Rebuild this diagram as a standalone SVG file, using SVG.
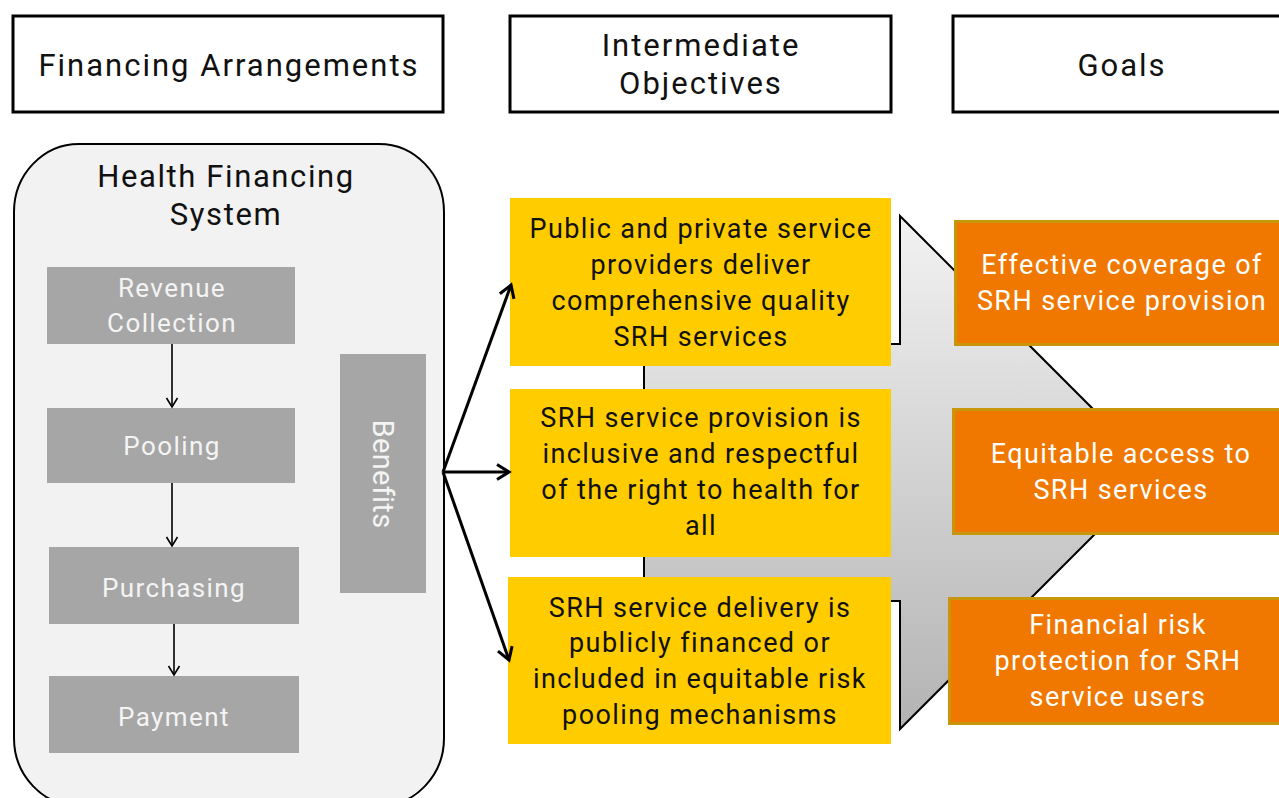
<svg xmlns="http://www.w3.org/2000/svg" width="1279" height="798" viewBox="0 0 1279 798">
<defs>
<style>
text{font-family:Roboto,"Liberation Sans",sans-serif;text-anchor:middle}
.hdr{font-size:31px;letter-spacing:2px;fill:#111}
.hbox{fill:#fff;stroke:#000;stroke-width:3}
.gbox{fill:#a6a6a6}
.gtxt{font-size:26px;letter-spacing:1.4px;fill:#f4f4f4}
.ybox{fill:#ffcc00}
.ytxt{font-size:27px;letter-spacing:1.4px;fill:#111}
.obox{fill:#f07800;stroke:#c8960a;stroke-width:3}
.otxt{font-size:27px;letter-spacing:1.4px;fill:#fff}
.thin{stroke:#000;stroke-width:1.6;fill:none;marker-end:url(#chevS)}
.thick{stroke:#000;stroke-width:3;fill:none;marker-end:url(#chevL)}
</style>
<linearGradient id="gArrow" x1="0" y1="0" x2="0" y2="1">
<stop offset="0" stop-color="#f2f2f2"/>
<stop offset="1" stop-color="#b3b3b3"/>
</linearGradient>
<marker id="chevS" markerUnits="userSpaceOnUse" viewBox="0 0 14 14" markerWidth="14" markerHeight="14" refX="12" refY="7" orient="auto">
<path d="M3,1.5 L12,7 L3,12.5" fill="none" stroke="#000" stroke-width="1.6"/>
</marker>
<marker id="chevL" markerUnits="userSpaceOnUse" viewBox="0 0 22 22" markerWidth="22" markerHeight="22" refX="19" refY="11" orient="auto">
<path d="M7,3.5 L19,11 L7,18.5" fill="none" stroke="#000" stroke-width="3" stroke-linejoin="miter"/>
</marker>
</defs>

<g id="header-financing">
<rect class="hbox" x="13" y="16" width="430" height="96"/>
<text class="hdr" x="229" y="76">Financing Arrangements</text>
</g>
<g id="header-intermediate">
<rect class="hbox" x="510" y="16" width="381" height="96"/>
<text class="hdr" x="701" y="56">Intermediate</text>
<text class="hdr" x="701" y="94">Objectives</text>
</g>
<g id="header-goals">
<rect class="hbox" x="953" y="16" width="340" height="96"/>
<text class="hdr" x="1122" y="76">Goals</text>
</g>

<g id="health-financing-system">
<rect x="14" y="144" width="430" height="662" rx="65" ry="68" fill="#f2f2f2" stroke="#000" stroke-width="2"/>
<text x="226" y="187" style="font-size:31px;letter-spacing:1.6px;fill:#111">Health Financing</text>
<text x="226" y="225" style="font-size:31px;letter-spacing:1.6px;fill:#111">System</text>
</g>

<g id="big-arrow">
<path d="M644,344 H900 V216 L1156.5,472.5 L900,729 V601 H644 Z" fill="url(#gArrow)" stroke="#000" stroke-width="2"/>
</g>

<g id="revenue-collection">
<rect class="gbox" x="47" y="267" width="248" height="77"/>
<text class="gtxt" x="172" y="297">Revenue</text>
<text class="gtxt" x="172" y="332">Collection</text>
</g>
<g id="pooling">
<rect class="gbox" x="47" y="408" width="248" height="75"/>
<text class="gtxt" x="172" y="455">Pooling</text>
</g>
<g id="purchasing">
<rect class="gbox" x="49" y="547" width="250" height="77"/>
<text class="gtxt" x="174" y="597">Purchasing</text>
</g>
<g id="payment">
<rect class="gbox" x="49" y="676" width="250" height="77"/>
<text class="gtxt" x="174" y="726">Payment</text>
</g>
<g id="benefits">
<rect class="gbox" x="340" y="354" width="86" height="239"/>
<text transform="translate(373,474) rotate(90)" style="font-size:29px;letter-spacing:0.3px;fill:#f4f4f4">Benefits</text>
</g>

<g id="objective-1">
<rect class="ybox" x="510" y="198" width="381" height="168"/>
<text class="ytxt" x="701" y="238">Public and private service</text>
<text class="ytxt" x="701" y="274">providers deliver</text>
<text class="ytxt" x="701" y="310">comprehensive quality</text>
<text class="ytxt" x="701" y="346">SRH services</text>
</g>
<g id="objective-2">
<rect class="ybox" x="510" y="389" width="381" height="168"/>
<text class="ytxt" x="701" y="427">SRH service provision is</text>
<text class="ytxt" x="701" y="463">inclusive and respectful</text>
<text class="ytxt" x="701" y="499">of the right to health for</text>
<text class="ytxt" x="701" y="535">all</text>
</g>
<g id="objective-3">
<rect class="ybox" x="508" y="577" width="383" height="167"/>
<text class="ytxt" x="700" y="617">SRH service delivery is</text>
<text class="ytxt" x="700" y="652">publicly financed or</text>
<text class="ytxt" x="700" y="688">included in equitable risk</text>
<text class="ytxt" x="700" y="724">pooling mechanisms</text>
</g>

<g id="goal-1">
<rect class="obox" x="955.5" y="221.5" width="340" height="123"/>
<text class="otxt" x="1122" y="274">Effective coverage of</text>
<text class="otxt" x="1122" y="310">SRH service provision</text>
</g>
<g id="goal-2">
<rect class="obox" x="953.5" y="409.5" width="340" height="124"/>
<text class="otxt" x="1121" y="463">Equitable access to</text>
<text class="otxt" x="1121" y="499">SRH services</text>
</g>
<g id="goal-3">
<rect class="obox" x="949.5" y="598.5" width="340" height="125"/>
<text class="otxt" x="1118" y="634">Financial risk</text>
<text class="otxt" x="1118" y="670">protection for SRH</text>
<text class="otxt" x="1118" y="706">service users</text>
</g>

<g id="connectors">
<line class="thin" x1="172" y1="344" x2="172" y2="407"/>
<line class="thin" x1="172" y1="483" x2="172" y2="546"/>
<line class="thin" x1="174" y1="624" x2="174" y2="675"/>
<line class="thick" x1="443" y1="472" x2="511" y2="285"/>
<line class="thick" x1="443" y1="472" x2="509" y2="472"/>
<line class="thick" x1="443" y1="472" x2="509" y2="660"/>
</g>
</svg>
